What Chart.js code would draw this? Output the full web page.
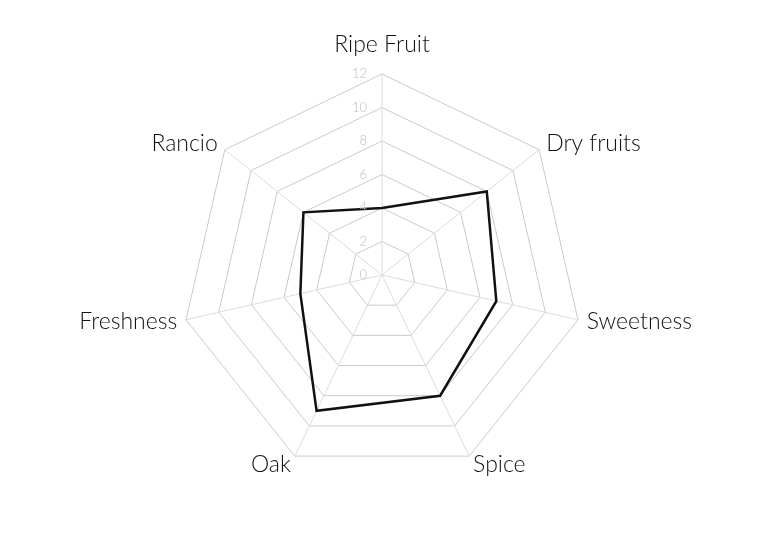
<!DOCTYPE html>
<html>
<head>
<meta charset="utf-8">
<script src="https://cdn.jsdelivr.net/npm/chart.js@4"></script>
<style>
  html, body { margin: 0; padding: 0; background: #fff; }
  #wrap { width: 765px; height: 550px; }
</style>
</head>
<body>
<div id="wrap"><canvas id="tasteChart"></canvas></div>
<script>
// ===============================================
// DATA
// ===============================================
const categories = ['Ripe Fruit', 'Dry fruits', 'Sweetness', 'Spice', 'Oak', 'Freshness', 'Rancio'];
const tasteValues = [4, 8, 7, 8, 9, 5, 6];
const tickValues = [0, 2, 4, 6, 8, 10, 12];

const FONT = "Lato, 'Open Sans', sans-serif";

// tick labels just left of the vertical axis (0 included)
// and category labels centred on their spoke, drawn from the r scale
const radarTextPlugin = {
    id: 'radarText',
    afterDatasetsDraw(chart) {
        const scale = chart.scales.r;
        const ctx = chart.ctx;
        ctx.save();

        ctx.font = `300 13px ${FONT}`;
        ctx.fillStyle = '#bbbbbb';
        ctx.textAlign = 'right';
        ctx.textBaseline = 'middle';
        tickValues.forEach(v => {
            const d = scale.getDistanceFromCenterForValue(v);
            ctx.fillText(String(v), scale.xCenter - 15, scale.yCenter - d);
        });

        ctx.font = `300 23px ${FONT}`;
        ctx.fillStyle = '#111';
        categories.forEach((label, i) => {
            const p = scale.getPointPosition(i, scale.drawingArea + 9);
            const dx = p.x - scale.xCenter;
            if (Math.abs(dx) < 1) {
                ctx.textAlign = 'center';
                ctx.textBaseline = 'alphabetic';
                ctx.fillText(label, p.x, p.y - 13);
            } else {
                ctx.textAlign = dx > 0 ? 'left' : 'right';
                ctx.textBaseline = 'middle';
                ctx.fillText(label, p.x, p.y);
            }
        });
        ctx.restore();
    }
};

new Chart(document.getElementById('tasteChart'), {
    type: 'radar',
    data: {
        labels: categories,
        datasets: [{
            data: tasteValues,
            borderColor: '#111',
            borderWidth: 2.5,
            backgroundColor: 'transparent',
            fill: false,
            pointRadius: 0,
            tension: 0
        }]
    },
    options: {
        responsive: true,
        maintainAspectRatio: false,
        animation: false,
        layout: {
            padding: { left: 0, right: 0, top: 74, bottom: 74 }
        },
        plugins: {
            legend: { display: false },
            tooltip: { enabled: false }
        },
        scales: {
            r: {
                min: 0,
                max: 12,
                ticks: { stepSize: 2, display: false },
                grid: { color: '#cacaca', lineWidth: 1 },
                angleLines: { color: '#dcdcdc', lineWidth: 1 },
                pointLabels: { display: false }
            }
        }
    },
    plugins: [radarTextPlugin]
});
</script>
</body>
</html>
